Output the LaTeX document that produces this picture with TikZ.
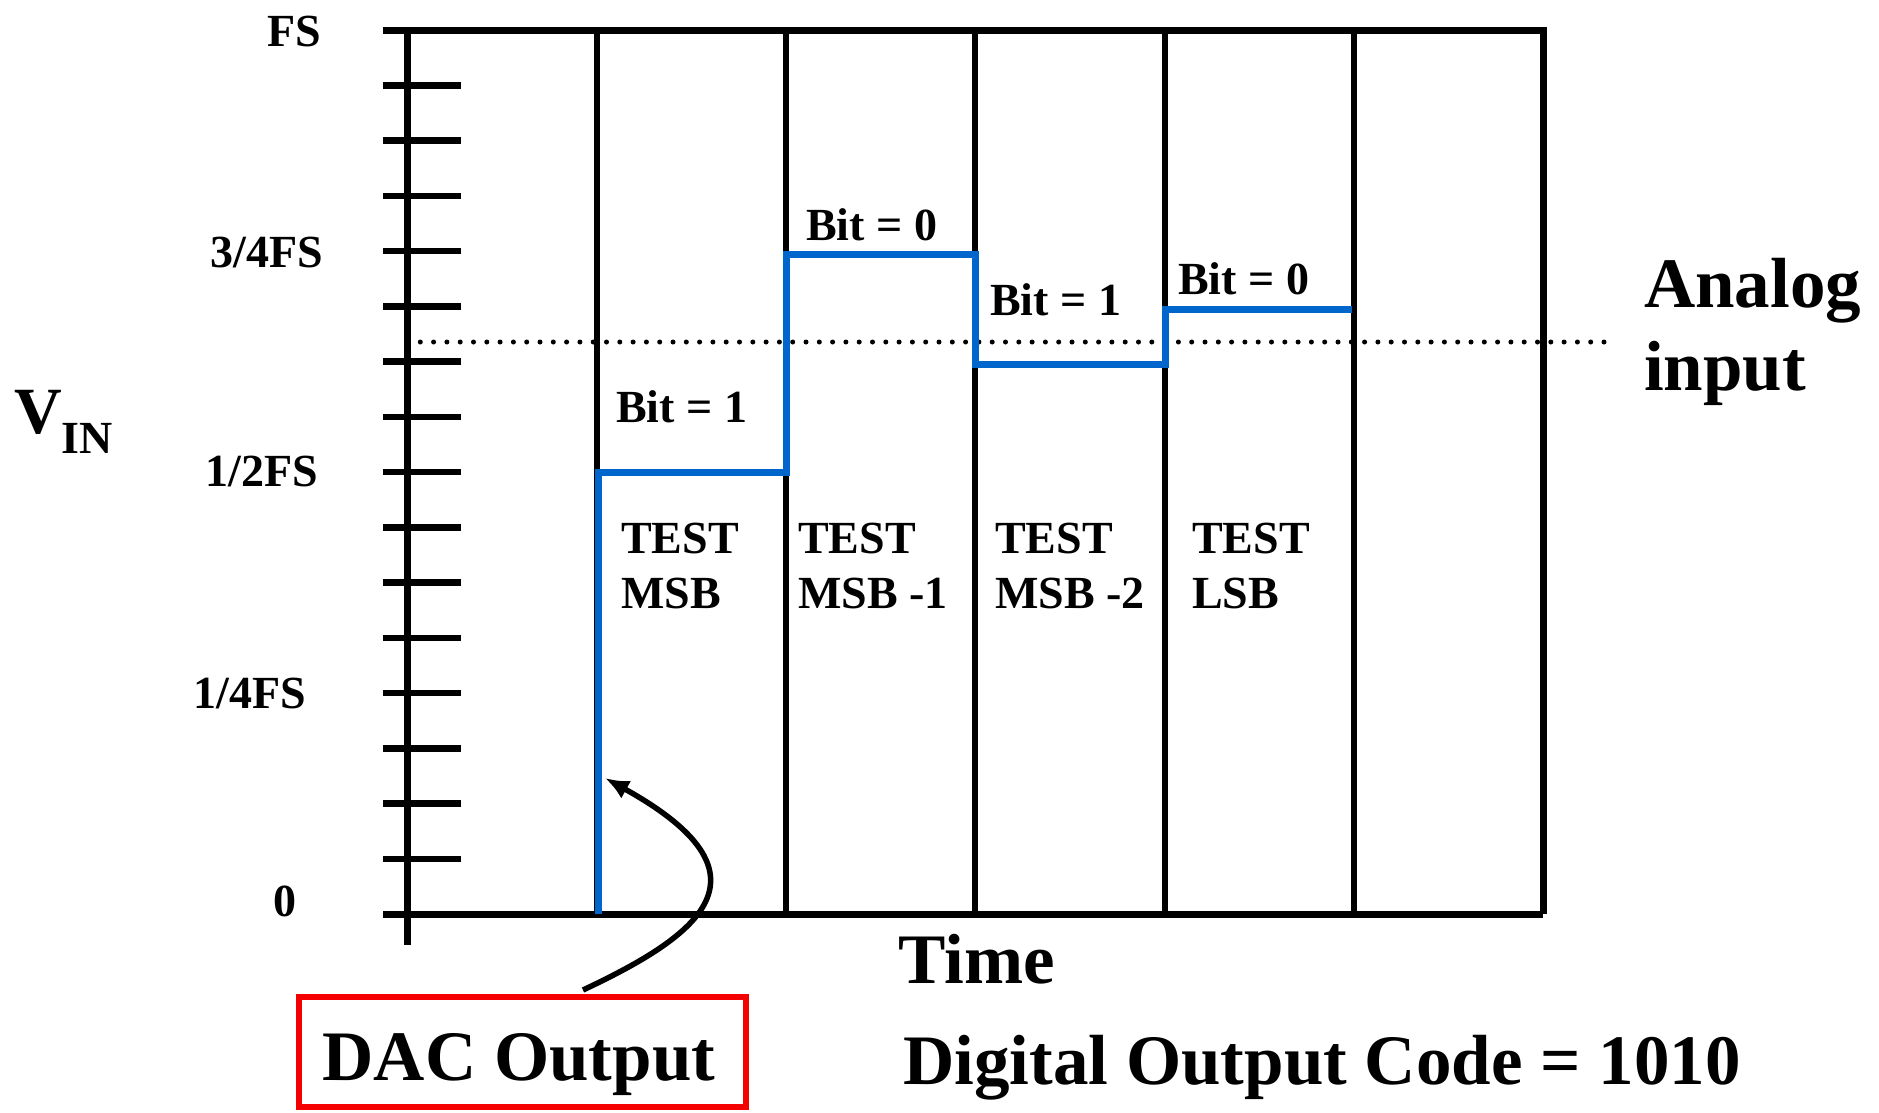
\documentclass[tikz,border=0pt]{standalone}
\usepackage{fontspec}
\setmainfont{Liberation Serif}
\usetikzlibrary{arrows.meta}
\definecolor{dacblue}{RGB}{0,102,204}
\definecolor{boxred}{RGB}{245,0,0}
\begin{document}
\begin{tikzpicture}[x=1pt,y=-1pt,
  axline/.style={line width=7pt, black},
  gridline/.style={line width=6pt, black},
  tickline/.style={line width=6.5pt, black},
  sigline/.style={line width=7pt, dacblue, line join=miter},
  dotline/.style={line width=5pt, line cap=round, dash pattern=on 0pt off 13.3pt},
  small/.style={font=\fontsize{46}{55}\selectfont\bfseries, inner sep=0pt},
  big/.style={font=\fontsize{71}{83}\selectfont\bfseries, inner sep=0pt},
  redbox/.style={draw=boxred, line width=6pt, minimum width=447pt, minimum height=110pt, inner sep=0pt}]
\useasboundingbox[fill=white] (0,0) rectangle (1879,1112);

% ticks
\foreach \k in {1,...,15}{
  \draw[tickline] (383,{30+\k*55.25}) -- (461,{30+\k*55.25});
}
% vertical grid lines
\foreach \xx in {597,786,975,1165,1354}{
  \draw[gridline] (\xx,30) -- (\xx,914);
}
% frame
\draw[axline] (383,30) -- (1543,30) -- (1543,914);
\draw[axline] (383,914) -- (1543,914);
\draw[axline] (407,30) -- (407,945);

% analog input level
\draw[dotline] (407,342) -- (1616,342);

% DAC output staircase
\draw[sigline] (598,914) -- (598,472) -- (786,472) -- (786,254) -- (975,254)
  -- (975,364) -- (1165,364) -- (1165,309) -- (1352,309);

% axis labels
\node[small, anchor=east] (fs) at (321,31) {FS};
\node[small, anchor=east] (q3) at (323,252) {3/4FS};
\node[small, anchor=east] (q2) at (318,471) {1/2FS};
\node[small, anchor=east] (q1) at (306,693) {1/4FS};
\node[small] (zero) at (285,901) {0};
\node[inner sep=0pt, anchor=west] (vin) at (14,422) {\fontsize{66}{70}\selectfont\bfseries V\raisebox{-0.3em}{\fontsize{46}{50}\selectfont IN}};

% bit labels
\node[small, anchor=west] (b1) at (616,407) {Bit = 1};
\node[small, anchor=west] (b2) at (806,225) {Bit = 0};
\node[small, anchor=west] (b3) at (990,300) {Bit = 1};
\node[small, anchor=west] (b4) at (1178,279) {Bit = 0};

% test labels
\node[small, anchor=west, align=left] (t1) at (621,566) {TEST\\MSB};
\node[small, anchor=west, align=left] (t2) at (798,566) {TEST\\MSB -1};
\node[small, anchor=west, align=left] (t3) at (995,566) {TEST\\MSB -2};
\node[small, anchor=west, align=left] (t4) at (1192,566) {TEST\\LSB};

\node[big, anchor=west, align=left] (ain) at (1644,332) {Analog\\input};
\node[big, anchor=base] (time) at (977,983) {Time};

\node[redbox] (dac) at (522.5,1052) {};
\node[big, anchor=base] (dactext) at (519,1080) {DAC Output};
\node[big, anchor=base] (code) at (1322,1084) {Digital Output Code = 1010};

% arrow
\coordinate (arrS) at (583,990);
\coordinate (arrE) at (605,778);
\draw[line width=5.5pt, -{Latex[length=24pt,width=20pt]}] (arrS) .. controls (700,935) and (780,875) .. (arrE);
\end{tikzpicture}
\end{document}
